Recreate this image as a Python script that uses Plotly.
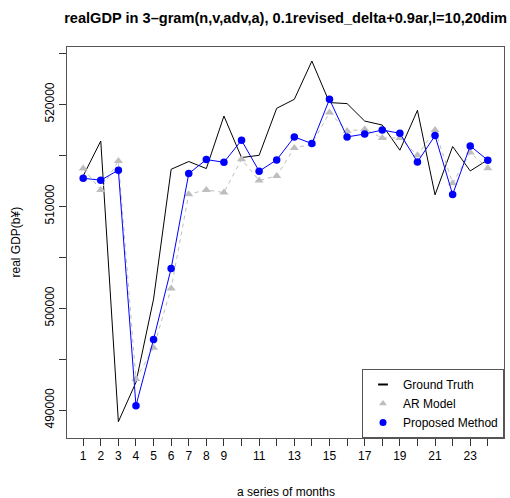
import plotly.graph_objects as go

months = list(range(1, 25))

ground_truth = [512980, 516400, 488880, 492740, 500900, 513630, 514390, 513700,
                518850, 514780, 515000, 519610, 520490, 524240, 520170, 520070,
                518360, 517970, 515500, 519410, 511120, 515860, 513470, 514550]

ar_model = [513700, 511610, 514450, 493070, 496130, 501950, 511190, 511610,
            511350, 514610, 512530, 512980, 515720, 516100, 519190, 517390,
            517550, 516700, 516700, 515000, 517480, 512260, 515270, 513730]

proposed = [512750, 512560, 513540, 490450, 496950, 503910, 513210, 514580,
            514320, 516470, 513440, 514550, 516800, 516150, 520490, 516800,
            517090, 517480, 517160, 514350, 516930, 511160, 515920, 514520]

x_tick_vals = months
x_tick_text = [str(m) if (m <= 9 or m % 2 == 1) else "" for m in months]
y_tick_vals = [490000, 495000, 500000, 505000, 510000, 515000, 520000, 525000]
y_tick_text = ["490000", "", "500000", "", "510000", "", "520000", ""]

FONT = "Liberation Sans, Arial, Helvetica, sans-serif"
GRAY = "#BEBEBE"
BLUE = "#0000FF"

fig = go.Figure()
fig.add_trace(go.Scatter(x=months, y=ground_truth, mode="lines",
                         line=dict(color="black", width=1), showlegend=False))
fig.add_trace(go.Scatter(x=months, y=ar_model, mode="lines+markers",
                         line=dict(color=GRAY, width=1, dash="4px,4px"),
                         marker=dict(symbol="triangle-up", size=8, color=GRAY),
                         showlegend=False))
fig.add_trace(go.Scatter(x=months, y=proposed, mode="lines+markers",
                         line=dict(color=BLUE, width=1),
                         marker=dict(symbol="circle", size=7.5, color=BLUE),
                         showlegend=False))

# legend-only entries
fig.add_trace(go.Scatter(x=[None], y=[None], mode="markers", name="Ground Truth",
                         marker=dict(symbol="line-ew-open", size=7, color="black",
                                     line=dict(color="black", width=2))))
fig.add_trace(go.Scatter(x=[None], y=[None], mode="markers", name="AR Model",
                         marker=dict(symbol="triangle-up", size=7, color=GRAY)))
fig.add_trace(go.Scatter(x=[None], y=[None], mode="markers", name="Proposed Method",
                         marker=dict(symbol="circle", size=7, color=BLUE)))

fig.update_layout(
    width=510, height=498,
    margin=dict(l=67, r=6, t=47, b=60),
    paper_bgcolor="white", plot_bgcolor="white",
    font=dict(family=FONT, size=12, color="black"),
    title=dict(text="<b>realGDP in 3–gram(n,v,adv,a), 0.1revised_delta+0.9ar,l=10,20dim</b>",
               x=0.56, xanchor="center", y=0.964, yanchor="middle",
               font=dict(size=14.6)),
    legend=dict(x=1, xanchor="right", y=0, yanchor="bottom",
                bgcolor="white", bordercolor="#555555", borderwidth=1,
                font=dict(size=12), itemwidth=30, tracegroupgap=0),
    xaxis=dict(range=[0.08, 24.92], tickmode="array", tickvals=x_tick_vals,
               ticktext=x_tick_text, ticks="outside", ticklen=7, tickcolor="#333333",
               showgrid=False, zeroline=False, showline=True, linecolor="#555555",
               mirror=True, tickfont=dict(size=12)),
    yaxis=dict(range=[487280, 525620], tickmode="array", tickvals=y_tick_vals,
               ticktext=y_tick_text, ticks="outside", ticklen=7, tickcolor="#333333",
               tickangle=-90, showgrid=False, zeroline=False, showline=True,
               linecolor="#555555", mirror=True, tickfont=dict(size=12)),
    annotations=[
        dict(text="a series of months", xref="paper", yref="paper", x=0.5, y=0,
             yshift=-54, xanchor="center", yanchor="middle", showarrow=False,
             font=dict(size=12)),
        dict(text="real GDP(b¥)", xref="paper", yref="paper", x=0, y=0.5,
             xshift=-52, textangle=-90, xanchor="center", yanchor="middle",
             showarrow=False, font=dict(size=12)),
    ],
)

fig.write_html("out.html", config={"displayModeBar": False},
               post_script="document.body.style.margin='0';document.body.style.overflow='hidden';")
